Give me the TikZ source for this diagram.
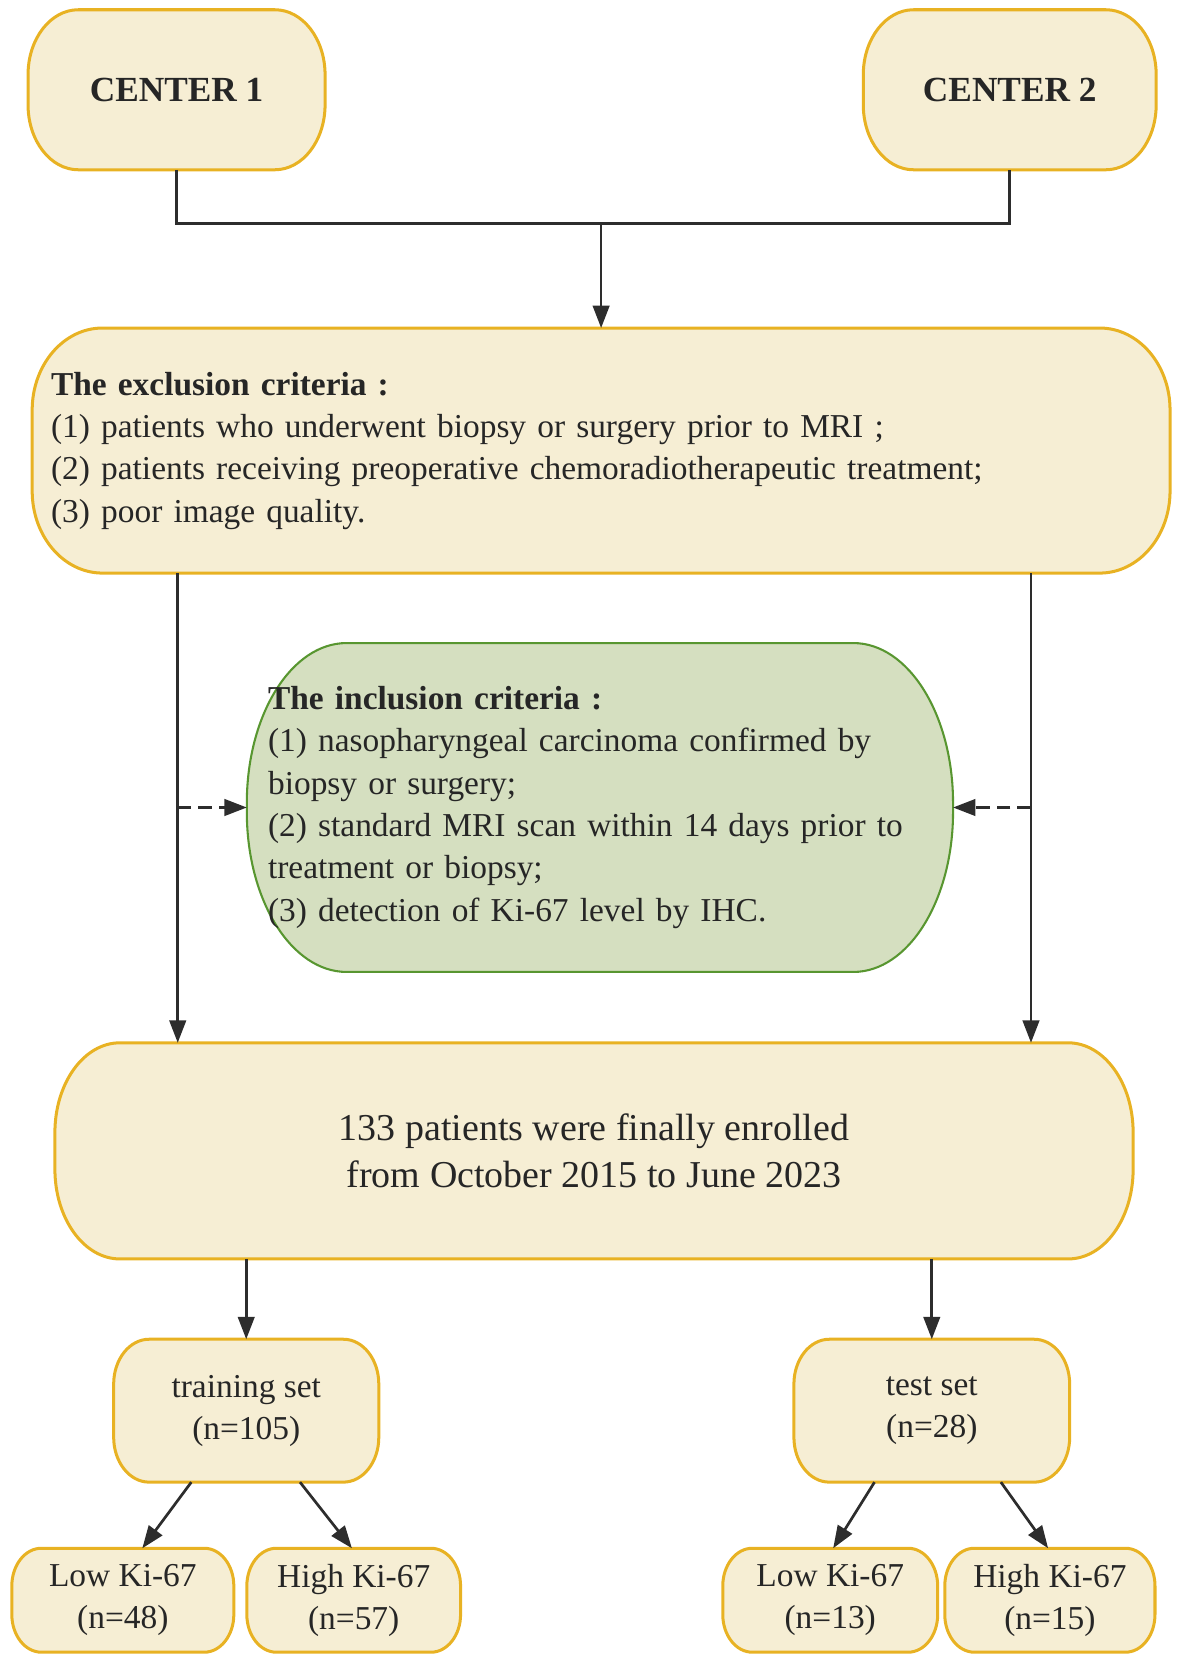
\documentclass[tikz,border=0pt]{standalone}
\usepackage{fontspec}
\setmainfont{Liberation Serif}
\usetikzlibrary{arrows.meta,calc,backgrounds}

\definecolor{boxfill}{RGB}{246,238,212}
\definecolor{boxline}{RGB}{232,178,35}
\definecolor{inclfill}{RGB}{213,223,192}
\definecolor{inclline}{RGB}{88,150,48}
\definecolor{linegray}{RGB}{45,45,45}
\definecolor{textgray}{RGB}{38,38,38}

\tikzset{
  txt/.style={inner sep=0pt, outer sep=0pt, text=textgray, align=center,
              font=\fontsize{16.1}{20.4}\selectfont},
  yellowbox/.style={fill=boxfill, draw=boxline, line width=1.45pt},
  greenbox/.style={fill=inclfill, draw=inclline, line width=1pt},
  link/.style={draw=linegray, line width=1.3pt},
}

% rounded box with elliptic corners round a node: name, x radius, y radius, style
\newcommand{\capsule}[4]{%
  \path[#4] let \p1=(#1.south west), \p2=(#1.north east) in
    (\x1+#2,\y1) -- (\x2-#2,\y1)
    arc[start angle=-90, end angle=0, x radius=#2, y radius=#3]
    -- (\x2,\y2-#3)
    arc[start angle=0, end angle=90, x radius=#2, y radius=#3]
    -- (\x1+#2,\y2)
    arc[start angle=90, end angle=180, x radius=#2, y radius=#3]
    -- (\x1,\y1+#3)
    arc[start angle=180, end angle=270, x radius=#2, y radius=#3]
    -- cycle;}

\begin{document}
\begin{tikzpicture}[>={Triangle[length=0.38cm,width=0.28cm]}]
\useasboundingbox (0,0) rectangle (20,-28.214);

\node (c1) at (2.99,-1.52) [txt, minimum width=5.03cm, minimum height=2.71cm,
  font=\bfseries\fontsize{17}{20}\selectfont] {CENTER 1};
\node (c2) at (17.10,-1.52) [txt, minimum width=4.96cm, minimum height=2.71cm,
  font=\bfseries\fontsize{17}{20}\selectfont] {CENTER 2};

\node (excl) at (10.18,-7.63) [txt, align=left, text width=18.63cm, inner xsep=0.32cm,
  minimum height=4.15cm]
  {\textbf{The exclusion criteria :}\\
   (1) patients who underwent biopsy or surgery prior to MRI ;\\
   (2) patients receiving preoperative chemoradiotherapeutic treatment;\\
   (3) poor image quality.};

\node (incl) at (10.16,-13.675) [txt, align=left, text width=11.24cm, inner xsep=0.36cm,
  minimum height=5.57cm]
  {\textbf{The inclusion criteria :}\\
   (1) nasopharyngeal carcinoma confirmed by\\
   biopsy or surgery;\\
   (2) standard MRI scan within 14 days prior to\\
   treatment or biopsy;\\
   (3) detection of Ki-67 level by IHC.};

\node (enrolled) at (10.06,-19.49) [txt, minimum width=18.26cm, minimum height=3.66cm,
  font=\fontsize{18.3}{22.6}\selectfont]
  {133 patients were finally enrolled\\from October 2015 to June 2023};

\node (train) at (4.17,-23.89) [txt, minimum width=4.49cm, minimum height=2.42cm] {training set\\(n=105)};
\node (test) at (15.78,-23.89) [txt, minimum width=4.67cm, minimum height=2.42cm] {test set\\(n=28)};

\node (lowA)  at (2.08,-27.10)  [txt, minimum width=3.76cm, minimum height=1.76cm] {Low Ki-67\\(n=48)};
\node (highA) at (5.99,-27.10)  [txt, minimum width=3.62cm, minimum height=1.76cm] {High Ki-67\\(n=57)};
\node (lowB)  at (14.06,-27.10) [txt, minimum width=3.64cm, minimum height=1.76cm] {Low Ki-67\\(n=13)};
\node (highB) at (17.78,-27.10) [txt, minimum width=3.56cm, minimum height=1.76cm] {High Ki-67\\(n=15)};

\begin{scope}[on background layer]
\capsule{c1}{0.85cm}{1.1cm}{yellowbox}
\capsule{c2}{0.85cm}{1.1cm}{yellowbox}
\capsule{excl}{1.19cm}{1.39cm}{yellowbox}
\capsule{incl}{1.69cm}{2.71cm}{greenbox}
\capsule{enrolled}{1.1cm}{1.52cm}{yellowbox}
\capsule{train}{0.6cm}{0.76cm}{yellowbox}
\capsule{test}{0.6cm}{0.76cm}{yellowbox}
\capsule{lowA}{0.5cm}{0.64cm}{yellowbox}
\capsule{highA}{0.5cm}{0.64cm}{yellowbox}
\capsule{lowB}{0.5cm}{0.64cm}{yellowbox}
\capsule{highB}{0.5cm}{0.64cm}{yellowbox}
\end{scope}

\coordinate (join) at (10.18,-3.79);
\coordinate (leftrail) at (3.01,-13.675);
\coordinate (rightrail) at (17.46,-13.675);

\draw [link] (c1.south) |- (join) -| (c2.south);
\draw [link,->] (join) -- (excl.north);
\draw [link,->] (excl.south -| leftrail) -- (enrolled.north -| leftrail);
\draw [link,->] (excl.south -| rightrail) -- (enrolled.north -| rightrail);
\draw [link,->,dash pattern=on 0.23cm off 0.12cm] (leftrail) -- (incl.west);
\draw [link,->,dash pattern=on 0.23cm off 0.12cm] (rightrail) -- (incl.east);
\draw [link,->] (enrolled.south -| train.north) -- (train.north);
\draw [link,->] (enrolled.south -| test.north) -- (test.north);
\draw [link,->] ([xshift=-0.93cm]train.south) -- ([xshift=0.33cm]lowA.north);
\draw [link,->] ([xshift=0.91cm]train.south) -- ([xshift=-0.03cm]highA.north);
\draw [link,->] ([xshift=-0.97cm]test.south) -- ([xshift=0.05cm]lowB.north);
\draw [link,->] ([xshift=1.17cm]test.south) -- ([xshift=-0.03cm]highB.north);
\end{tikzpicture}
\end{document}
